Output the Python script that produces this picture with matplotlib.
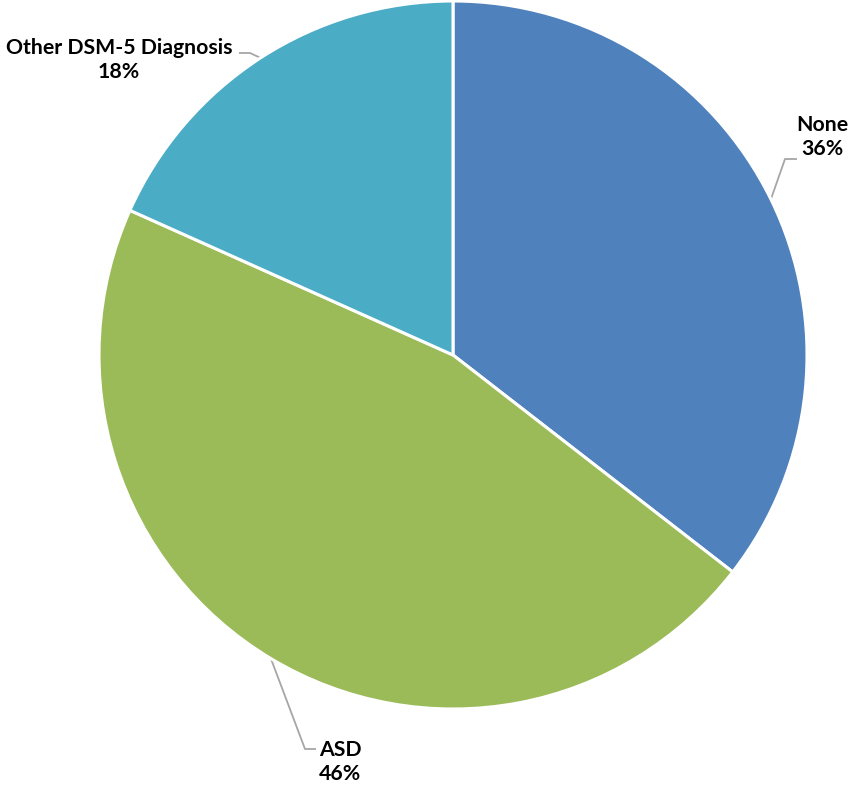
import numpy as np
import matplotlib
matplotlib.use("Agg")
import matplotlib.pyplot as plt

# ── Data ──
labels = ["None", "ASD", "Other DSM-5 Diagnosis"]
shares = [35.5, 46.2, 18.3]          # slice sizes
pct_labels = ["36%", "46%", "18%"]   # percentages as printed on the chart
colors = ["#4F81BD", "#9BBB59", "#4BACC6"]

W, H = 848, 789
fig = plt.figure(figsize=(W / 100, H / 100), dpi=100)
ax = fig.add_axes([0, 0, 1, 1])

cx, cy, r = 453, H - 355, 354
wedges, _ = ax.pie(shares, colors=colors, startangle=90, counterclock=False,
                   center=(cx, cy), radius=r, frame=True,
                   wedgeprops=dict(edgecolor="white", linewidth=2.2))
ax.set_xlim(0, W)
ax.set_ylim(0, H)
ax.axis("off")

# label text centre, leader elbow, leader end (pixel coords, y from top)
label_pos = [(822, 137), (340, 762), (119, 60)]
elbows = [(785, 159), (305, 749), (250, 53)]
ends = [(797, 159), (316, 749), (239, 53)]

for w, lab, pct, (tx, ty), (ex, ey), (nx, ny) in zip(wedges, labels, pct_labels,
                                                    label_pos, elbows, ends):
    mid = np.deg2rad((w.theta1 + w.theta2) / 2)
    sx, sy = cx + r * np.cos(mid), cy + r * np.sin(mid)
    ax.plot([sx, ex, nx], [sy, H - ey, H - ny], color="#A6A6A6", lw=1.3,
            solid_capstyle="butt", zorder=0.5)
    ax.text(tx, H - ty, f"{lab}\n{pct}", ha="center", va="center",
            fontsize=15.3, fontweight="bold", family="Lato", linespacing=1.3,
            color="black")

fig.savefig("out.png", dpi=100)
